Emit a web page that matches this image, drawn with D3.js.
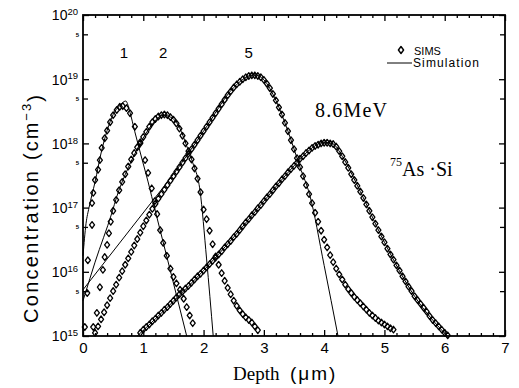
<!doctype html>
<html lang="en">
<head>
  <meta charset="utf-8">
  <title>As implant profiles</title>
  <style>
  body { margin: 0; background: #fff; }
  svg { display: block; }
  .frame { fill: none; stroke: #000; stroke-width: 1.8; }
  .axis path { display: none; }
  .axis line { stroke: #000; stroke-width: 1.3; }
  .axis text { font-family: "Liberation Sans", Arial, sans-serif; fill: #000; }
  .sim { fill: none; stroke: #000; stroke-width: 1; }
  .pt { fill: none; stroke: #000; stroke-width: 1.3; stroke-linejoin: round; }
  </style>
</head>
<body>
  <div id="chart"></div>
  <script src="https://cdn.jsdelivr.net/npm/d3@7"></script>
  <script>
  // all profiles: [depth (um), log10 of concentration (cm^-3)]
  var xTicks = [0, 1, 2, 3, 4, 5, 6, 7];
  var yDecades = [1e15, 1e16, 1e17, 1e18, 1e19, 1e20];
  var yFives = [5e15, 5e16, 5e17, 5e18, 5e19];

  var sim1 = [[0, 16.25], [0.05, 16.75], [0.1, 17.0], [0.2, 17.4], [0.3, 17.85], [0.4, 18.2],
    [0.5, 18.45], [0.6, 18.58], [0.71, 18.66], [0.78, 18.48], [0.86, 18.18], [1.0, 17.68],
    [1.08, 17.4], [1.14, 17.17], [1.4, 16.2], [1.72, 15.0]];
  var sims1 = [[0.03, 15.14], [0.07, 15.67], [0.08, 16.18], [0.15, 16.73], [0.15, 17.07],
    [0.17, 17.23], [0.2, 17.43], [0.25, 17.59], [0.28, 17.74], [0.31, 17.93], [0.36, 18.08],
    [0.4, 18.2], [0.45, 18.33], [0.5, 18.44], [0.56, 18.52], [0.61, 18.57], [0.66, 18.58],
    [0.72, 18.55], [0.78, 18.47], [0.86, 18.26], [0.95, 18.0], [1.03, 17.74], [1.08, 17.54],
    [1.14, 17.3], [1.19, 17.1], [1.23, 16.9], [1.28, 16.65], [1.33, 16.45], [1.39, 16.25],
    [1.45, 16.05], [1.5, 15.92], [1.55, 15.82], [1.61, 15.72], [1.67, 15.58], [1.72, 15.45],
    [1.77, 15.32], [1.82, 15.2]];

  var sim2 = [[0, 15.55], [0.03, 15.64], [0.2, 16.15], [0.48, 16.92], [0.56, 17.17], [0.75, 17.62],
    [0.95, 18.0], [1.15, 18.3], [1.33, 18.44], [1.5, 18.38], [1.6, 18.25], [1.72, 17.96],
    [1.82, 17.7], [1.94, 17.27], [2.05, 16.2], [2.16, 15.0]];
  var sims2 = [[0.17, 15.14], [0.23, 15.36], [0.28, 15.76], [0.33, 16.03], [0.36, 16.23],
    [0.4, 16.42], [0.43, 16.6], [0.46, 16.78], [0.5, 16.95], [0.55, 17.12], [0.6, 17.27],
    [0.65, 17.4], [0.7, 17.52], [0.75, 17.64], [0.8, 17.75], [0.85, 17.85], [0.9, 17.94],
    [0.95, 18.02], [1.0, 18.1], [1.05, 18.18], [1.1, 18.26], [1.15, 18.33], [1.2, 18.38],
    [1.25, 18.42], [1.3, 18.44], [1.35, 18.45], [1.4, 18.44], [1.45, 18.41], [1.5, 18.37],
    [1.55, 18.31], [1.6, 18.23], [1.65, 18.12], [1.7, 18.0], [1.75, 17.88], [1.8, 17.75],
    [1.85, 17.61], [1.9, 17.45], [1.95, 17.24], [2.0, 16.97], [2.05, 16.82], [2.1, 16.64],
    [2.15, 16.43], [2.2, 16.24], [2.25, 16.11], [2.3, 15.98], [2.35, 15.86], [2.4, 15.75],
    [2.45, 15.65], [2.5, 15.55], [2.55, 15.47], [2.6, 15.4], [2.65, 15.34], [2.7, 15.29],
    [2.75, 15.25], [2.8, 15.21], [2.85, 15.15], [2.9, 15.09]];

  var sim5 = [[0, 15.72], [0.4, 16.2], [0.8, 16.68], [1.15, 17.1], [1.5, 17.52], [2.0, 18.19],
    [2.5, 18.87], [2.75, 19.05], [2.85, 19.07], [3.0, 18.99], [3.2, 18.67], [3.4, 18.19],
    [3.6, 17.63], [3.76, 17.2], [4.0, 16.1], [4.23, 15.0]];
  var sims5 = [[0.2, 15.05], [0.25, 15.15], [0.3, 15.26], [0.35, 15.37], [0.4, 15.48],
    [0.45, 15.59], [0.5, 15.7], [0.55, 15.8], [0.6, 15.91], [0.65, 16.01], [0.7, 16.11],
    [0.75, 16.21], [0.8, 16.31], [0.85, 16.41], [0.9, 16.51], [0.95, 16.61], [1.0, 16.71],
    [1.05, 16.8], [1.1, 16.89], [1.15, 16.98], [1.2, 17.06], [1.25, 17.14], [1.3, 17.21],
    [1.35, 17.28], [1.4, 17.35], [1.45, 17.42], [1.5, 17.49], [1.55, 17.56], [1.6, 17.63],
    [1.65, 17.7], [1.7, 17.77], [1.75, 17.84], [1.8, 17.91], [1.85, 17.98], [1.9, 18.05],
    [1.95, 18.12], [2.0, 18.19], [2.05, 18.26], [2.1, 18.33], [2.15, 18.4], [2.2, 18.47],
    [2.25, 18.54], [2.3, 18.61], [2.35, 18.68], [2.4, 18.75], [2.45, 18.81], [2.5, 18.87],
    [2.55, 18.92], [2.6, 18.96], [2.65, 19.0], [2.7, 19.03], [2.75, 19.05], [2.8, 19.06],
    [2.85, 19.06], [2.9, 19.05], [2.95, 19.03], [3.0, 18.99], [3.05, 18.93], [3.1, 18.86],
    [3.15, 18.77], [3.2, 18.67], [3.25, 18.56], [3.3, 18.45], [3.35, 18.32], [3.4, 18.19],
    [3.45, 18.05], [3.5, 17.91], [3.55, 17.77], [3.6, 17.63], [3.65, 17.49], [3.7, 17.35],
    [3.75, 17.21], [3.8, 17.07], [3.85, 16.92], [3.9, 16.78], [3.95, 16.64], [4.0, 16.5],
    [4.05, 16.38], [4.1, 16.26], [4.15, 16.15], [4.2, 16.05], [4.25, 15.96], [4.3, 15.88],
    [4.35, 15.8], [4.4, 15.73], [4.45, 15.67], [4.5, 15.61], [4.55, 15.56], [4.6, 15.51],
    [4.65, 15.46], [4.7, 15.41], [4.75, 15.36], [4.8, 15.32], [4.85, 15.28], [4.9, 15.24],
    [4.95, 15.21], [5.0, 15.18], [5.05, 15.15], [5.1, 15.12], [5.15, 15.1]];

  var sim86 = [[0.9, 15.0], [1.5, 15.54], [2.0, 16.02], [2.5, 16.54], [3.0, 17.1], [3.5, 17.65],
    [3.8, 17.93], [4.0, 18.02], [4.15, 17.99], [4.3, 17.8], [4.6, 17.25], [5.0, 16.46],
    [5.5, 15.62], [6.04, 15.0]];
  var sims86 = [[0.95, 15.05], [1.0, 15.1], [1.05, 15.14], [1.1, 15.18], [1.15, 15.23],
    [1.2, 15.27], [1.25, 15.32], [1.3, 15.36], [1.35, 15.41], [1.4, 15.45], [1.45, 15.5],
    [1.5, 15.55], [1.55, 15.6], [1.6, 15.65], [1.65, 15.69], [1.7, 15.74], [1.75, 15.78],
    [1.8, 15.83], [1.85, 15.88], [1.9, 15.93], [1.95, 15.97], [2.0, 16.02], [2.05, 16.07],
    [2.1, 16.12], [2.15, 16.17], [2.2, 16.22], [2.25, 16.27], [2.3, 16.32], [2.35, 16.38],
    [2.4, 16.43], [2.45, 16.48], [2.5, 16.54], [2.55, 16.59], [2.6, 16.65], [2.65, 16.71],
    [2.7, 16.77], [2.75, 16.82], [2.8, 16.88], [2.85, 16.93], [2.9, 16.99], [2.95, 17.04],
    [3.0, 17.1], [3.05, 17.16], [3.1, 17.21], [3.15, 17.27], [3.2, 17.33], [3.25, 17.38],
    [3.3, 17.44], [3.35, 17.49], [3.4, 17.55], [3.45, 17.6], [3.5, 17.65], [3.55, 17.7],
    [3.6, 17.76], [3.65, 17.8], [3.7, 17.85], [3.75, 17.89], [3.8, 17.93], [3.85, 17.96],
    [3.9, 17.98], [3.95, 18.0], [4.0, 18.01], [4.05, 18.01], [4.1, 18.0], [4.15, 17.99],
    [4.2, 17.95], [4.25, 17.88], [4.3, 17.8], [4.35, 17.71], [4.4, 17.62], [4.45, 17.52],
    [4.5, 17.43], [4.55, 17.34], [4.6, 17.25], [4.65, 17.15], [4.7, 17.05], [4.75, 16.95],
    [4.8, 16.85], [4.85, 16.75], [4.9, 16.65], [4.95, 16.55], [5.0, 16.46], [5.05, 16.36],
    [5.1, 16.27], [5.15, 16.19], [5.2, 16.1], [5.25, 16.02], [5.3, 15.93], [5.35, 15.85],
    [5.4, 15.77], [5.45, 15.7], [5.5, 15.62], [5.55, 15.56], [5.6, 15.5], [5.65, 15.44],
    [5.7, 15.38], [5.75, 15.31], [5.8, 15.25], [5.85, 15.2], [5.9, 15.15], [5.95, 15.1],
    [6.0, 15.05], [6.05, 15.01]];

  var curveLabels = [["1", 0.68], ["2", 1.33], ["5", 2.75]];

  (function() {
    var width = 519, height = 388;
    var left = 83, right = 505, top = 15, bottom = 336;

    var x = d3.scaleLinear().domain([0, 7]).range([left, right]);
    var y = d3.scaleLog().domain([1e15, 1e20]).range([bottom, top]);
    var px = function(d) { return x(d[0]); };
    var py = function(d) { return y(Math.pow(10, d[1])); };

    var svg = d3.select("#chart").append("svg")
        .attr("width", width).attr("height", height);

    var minorX = d3.range(0, 7.001, 0.2).filter(function(v) {
      return Math.abs(v - Math.round(v)) > 0.01;
    });

    // x axes (ticks point inward)
    svg.append("g").attr("class", "axis")
        .attr("transform", "translate(0," + bottom + ")")
        .call(d3.axisBottom(x).tickValues(xTicks).tickSize(-6).tickPadding(6).tickFormat(d3.format("d")))
        .selectAll("text").style("font-size", "15px");
    svg.append("g").attr("class", "axis")
        .attr("transform", "translate(0," + bottom + ")")
        .call(d3.axisBottom(x).tickValues(minorX).tickSize(-3).tickFormat(""));
    svg.append("g").attr("class", "axis")
        .attr("transform", "translate(0," + top + ")")
        .call(d3.axisTop(x).tickValues(xTicks).tickSize(-6).tickFormat(""));
    svg.append("g").attr("class", "axis")
        .attr("transform", "translate(0," + top + ")")
        .call(d3.axisTop(x).tickValues(minorX).tickSize(-3).tickFormat(""));

    // y axes
    var yl = svg.append("g").attr("class", "axis")
        .attr("transform", "translate(" + left + ",0)")
        .call(d3.axisLeft(y).tickValues(yDecades).tickSize(-6).tickPadding(5).tickFormat(""));
    yl.selectAll(".tick text").each(function(d) {
      var t = d3.select(this).attr("dy", "0.35em").style("font-size", "14px");
      t.append("tspan").text("10");
      t.append("tspan").attr("dy", "-0.55em").style("font-size", "9.5px")
          .text(Math.round(Math.log10(d)));
    });
    svg.append("g").attr("class", "axis")
        .attr("transform", "translate(" + left + ",0)")
        .call(d3.axisLeft(y).tickValues(yFives).tickSize(-5).tickPadding(4).tickFormat(function() { return "5"; }))
        .selectAll("text").style("font-size", "6px").style("font-weight", "bold");
    svg.append("g").attr("class", "axis")
        .attr("transform", "translate(" + right + ",0)")
        .call(d3.axisRight(y).tickValues(yDecades).tickSize(-6).tickFormat(""));
    svg.append("g").attr("class", "axis")
        .attr("transform", "translate(" + right + ",0)")
        .call(d3.axisRight(y).tickValues(yFives).tickSize(-5).tickFormat(""));

    svg.append("rect").attr("class", "frame")
        .attr("x", left).attr("y", top)
        .attr("width", right - left).attr("height", bottom - top);

    // curves
    var plot = svg.append("g");
    var line = d3.line().x(px).y(py).curve(d3.curveMonotoneX);
    [sim1, sim2, sim5, sim86].forEach(function(s) {
      plot.append("path").datum(s).attr("class", "sim").attr("d", line);
    });

    var diamond = "M0,-3.3L2.5,0L0,3.3L-2.5,0Z";
    [sims1, sims2, sims5, sims86].forEach(function(s) {
      plot.append("g").selectAll("path").data(s).enter().append("path")
          .attr("class", "pt")
          .attr("d", diamond)
          .attr("transform", function(d) { return "translate(" + px(d) + "," + py(d) + ")"; });
    });

    // curve numbers
    svg.append("g").selectAll("text").data(curveLabels).enter().append("text")
        .attr("x", function(d) { return x(d[1]); })
        .attr("y", 58)
        .attr("text-anchor", "middle")
        .style("font-family", "Liberation Sans, Arial, sans-serif")
        .style("font-size", "15px")
        .text(function(d) { return d[0]; });

    // legend
    svg.append("path").attr("class", "pt").attr("d", "M0,-3.5L2.6,0L0,3.5L-2.6,0Z")
        .attr("transform", "translate(401,50)").style("stroke-width", 1.4);
    svg.append("line").attr("x1", 387).attr("x2", 412).attr("y1", 63).attr("y2", 63)
        .attr("stroke", "#000").attr("stroke-width", 1);
    svg.append("text").attr("x", 414).attr("y", 55)
        .style("font-family", "Liberation Sans, Arial, sans-serif").style("font-size", "11px")
        .text("SIMS");
    svg.append("text").attr("x", 413).attr("y", 67)
        .style("font-family", "Liberation Sans, Arial, sans-serif").style("font-size", "12px")
        .attr("textLength", 66).attr("lengthAdjust", "spacing")
        .text("Simulation");

    // annotations
    svg.append("text").attr("x", 315).attr("y", 117)
        .style("font-family", "Liberation Serif, Times New Roman, serif").style("font-size", "20px")
        .attr("textLength", 72).attr("lengthAdjust", "spacing")
        .text("8.6MeV");
    var ion = svg.append("text").attr("x", 390).attr("y", 172)
        .style("font-family", "Liberation Serif, Times New Roman, serif").style("font-size", "20px");
    ion.append("tspan").attr("dy", "-0.5em").style("font-size", "12px").text("75");
    ion.append("tspan").attr("dy", "0.5em").text("As ·Si");

    // axis titles
    var xt = svg.append("text").attr("y", 380);
    xt.append("tspan").attr("x", 233)
        .style("font-family", "Liberation Serif, Times New Roman, serif").style("font-size", "19px")
        .text("Depth");
    xt.append("tspan").attr("x", 290)
        .style("font-family", "Liberation Sans, Arial, sans-serif").style("font-size", "19px")
        .style("letter-spacing", "2px")
        .text("(μm)");

    var yt = svg.append("g").attr("transform", "translate(38,190) rotate(-90)");
    yt.append("text").attr("x", -133).attr("y", 0)
        .style("font-family", "Liberation Sans, Arial, sans-serif").style("font-size", "20px")
        .attr("textLength", 152).attr("lengthAdjust", "spacing")
        .text("Concentration");
    var cm = yt.append("text").attr("x", 30).attr("y", 0)
        .style("font-family", "Liberation Sans, Arial, sans-serif").style("font-size", "20px")
        .style("letter-spacing", "2px");
    cm.append("tspan").text("(cm");
    cm.append("tspan").attr("dy", "-0.55em").style("font-size", "13px").text("−3");
    cm.append("tspan").attr("dy", "0.55em").text(")");
  })();
  </script>
</body>
</html>
